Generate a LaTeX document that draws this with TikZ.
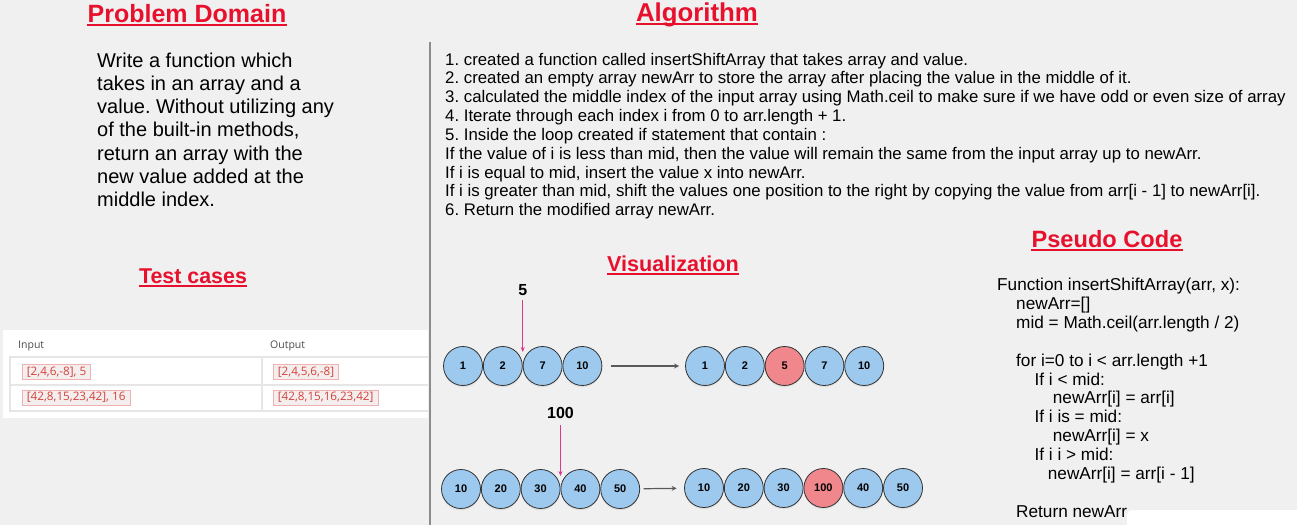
\documentclass[tikz,border=0pt]{standalone}
\usepackage{fontspec}
\setmainfont{Liberation Sans}
\newfontfamily\tablefont{Open Sans}
\usetikzlibrary{arrows.meta, positioning, calc}

\definecolor{pagebg}{HTML}{F0F0F0}
\definecolor{titlered}{HTML}{E8112D}
\definecolor{cellblue}{HTML}{9DC9EE}
\definecolor{cellred}{HTML}{F0878D}
\definecolor{pinkline}{HTML}{E0368C}
\definecolor{codered}{HTML}{D4403A}
\definecolor{codebg}{HTML}{F4EFEE}
\definecolor{gridgrey}{HTML}{E6E6E6}

\begin{document}
\frenchspacing
\begin{tikzpicture}[x=1pt, y=-1pt,
	heading/.style={font=\fontsize{#1}{#1}\selectfont\bfseries, text=titlered, inner sep=0pt, anchor=base},
	uline/.style={titlered, line width=2pt},
	bodytext/.style={font=\fontsize{20}{23.2}\selectfont, align=left, anchor=north west, inner sep=0pt},
	steptext/.style={font=\fontsize{16.8}{18.84}\selectfont, align=left, anchor=north west, inner sep=0pt},
	pseudotext/.style={font=\fontsize{17.2}{18.85}\selectfont, align=left, anchor=north west, inner sep=0pt},
	cell/.style={draw=black!80, circle, fill=cellblue, minimum size=39pt, inner sep=0pt, line width=0.8pt,
		preaction={fill=black!12, transform canvas={yshift=-1.8pt}},
		font=\fontsize{11}{12}\selectfont\bfseries, node distance=0pt},
	newcell/.style={cell, fill=cellred},
	insval/.style={font=\fontsize{16}{16}\selectfont\bfseries, inner sep=0pt, anchor=base},
	insarrow/.style={-{Stealth[length=5pt, width=4pt]}, pinkline, line width=0.8pt},
	shiftarrow/.style={-{Stealth[length=5pt, width=5pt]}, black!65, line width=1.2pt},
	colhead/.style={font=\tablefont\fontsize{10.5}{12}\selectfont, text=black!70, anchor=base west, inner sep=0pt},
	codebox/.style={font=\tablefont\fontsize{11.7}{12}\selectfont, text=codered, fill=codebg, draw=codered!40, line width=0.7pt, inner xsep=4.5pt, inner ysep=1pt, minimum height=15pt, anchor=west}
]

\fill[pagebg] (0,0) rectangle (1297,525);
\useasboundingbox (0,0) rectangle (1297,525);

% headings
\node[heading=25] (pd) at (187,22) {Problem Domain};
\node[heading=25.8] (alg) at (697,21.5) {Algorithm};
\node[heading=21.4] (tc) at (193,283) {Test cases};
\node[heading=21.6] (vis) at (673,271) {Visualization};
\node[heading=23.6] (pc) at (1107,247.5) {Pseudo Code};
\foreach \h in {pd, alg, tc, vis, pc}
	\draw[uline] ($(\h.base west)+(0,2.8)$) -- ($(\h.base east)+(0,2.8)$);

\draw[black!45, line width=1.5pt] (430,42) -- (430,525);

% problem domain
\node[bodytext] (prob) at (97,52.7) {Write a function which\\
takes in an array and a\\
value. Without utilizing any\\
of the built-in methods,\\
return an array with the\\
new value added at the\\
middle index.};

% algorithm
\node[steptext] (steps) at (445,52.7) {1. created a function called insertShiftArray that takes array and value.\\
2. created an empty array newArr to store the array after placing the value in the middle of it.\\
3. calculated the middle index of the input array using Math.ceil to make sure if we have odd or even size of array\\
4. Iterate through each index i from 0 to arr.length + 1.\\
5. Inside the loop created if statement that contain :\\
If the value of i is less than mid, then the value will remain the same from the input array up to newArr.\\
If i is equal to mid, insert the value x into newArr.\\
If i is greater than mid, shift the values one position to the right by copying the value from arr[i - 1] to newArr[i].\\
6. Return the modified array newArr.};

% test cases
\fill[white] (3,330) rectangle (428,418);
\draw[gridgrey, line width=1.5pt] (428,357) -- (10,357) -- (10,411) -- (428,411);
\draw[gridgrey, line width=1.5pt] (10,385) -- (428,385);
\draw[gridgrey, line width=1.5pt] (262,357) -- (262,411);
\node[colhead] (hin) at (18,348) {Input};
\node[colhead] (hout) at (270,348) {Output};
\node[codebox] (in1) at (22,372) {[2,4,6,-8], 5};
\node[codebox] (out1) at (273,372) {[2,4,5,6,-8]};
\node[codebox] (in2) at (22,397.5) {[42,8,15,23,42], 16};
\node[codebox] (out2) at (273,397.5) {[42,8,15,16,23,42]};

% first example
\node[cell] (a1) at (463,366) {1};
\node[cell, right=of a1] (a2) {2};
\node[cell, right=of a2] (a3) {7};
\node[cell, right=of a3] (a4) {10};
\node[cell] (b1) at (705,366) {1};
\node[cell, right=of b1] (b2) {2};
\node[newcell, right=of b2] (b3) {5};
\node[cell, right=of b3] (b4) {7};
\node[cell, right=of b4] (b5) {10};
\coordinate (p1) at ($(a2.east)!0.5!(a3.west)+(0,-14)$);
\node[insval] (v1) at ($(p1)+(0,-57)$) {5};
\draw[insarrow, shorten <=5pt] (v1.base) -- (p1);
\draw[shiftarrow, shorten <=9pt, shorten >=6pt] (a4) -- (b1);

% second example
\node[cell] (c1) at (461,489) {10};
\node[cell, right=of c1] (c2) {20};
\node[cell, right=of c2] (c3) {30};
\node[cell, right=of c3] (c4) {40};
\node[cell, right=of c4] (c5) {50};
\node[cell] (d1) at (704,488) {10};
\node[cell, right=of d1] (d2) {20};
\node[cell, right=of d2] (d3) {30};
\node[newcell, right=of d3] (d4) {100};
\node[cell, right=of d4] (d5) {40};
\node[cell, right=of d5] (d6) {50};
\coordinate (p2) at ($(c3.east)!0.5!(c4.west)+(0,-13)$);
\node[insval] (v2) at ($(p2)+(0,-58)$) {100};
\draw[insarrow, shorten <=7pt] (v2.base) -- (p2);
\draw[shiftarrow, shorten <=3.5pt, shorten >=7.5pt] (c5) -- (d1);

% pseudo code
\fill[white, rounded corners=5pt] (1127,510) rectangle (1320,545);
\node[pseudotext] (pseudo) at (997,278.2) {Function insertShiftArray(arr, x):\\
\hspace*{19pt}newArr=[]\\
\hspace*{19pt}mid = Math.ceil(arr.length / 2)\\
~\\
\hspace*{19pt}for i=0 to i < arr.length +1\\
\hspace*{37.4pt}If i < mid:\\
\hspace*{55.7pt}newArr[i] = arr[i]\\
\hspace*{37.4pt}If i is = mid:\\
\hspace*{55.7pt}newArr[i] = x\\
\hspace*{37.4pt}If i i > mid:\\
\hspace*{50.7pt}newArr[i] = arr[i - 1]\\
~\\
\hspace*{19pt}Return newArr};

\end{tikzpicture}
\end{document}
